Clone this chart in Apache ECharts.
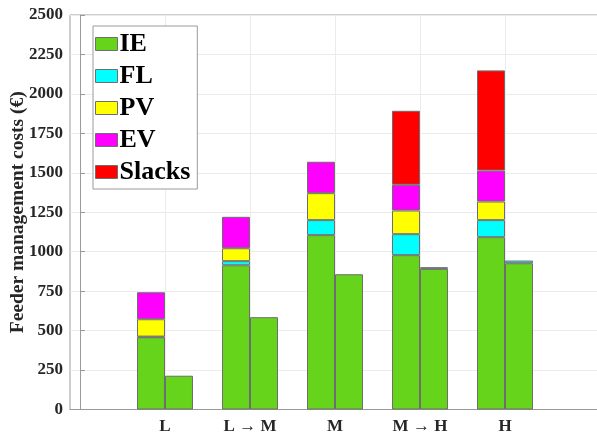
<!DOCTYPE html>
<html>
<head>
<meta charset="utf-8">
<script src="https://cdn.jsdelivr.net/npm/echarts@6/dist/echarts.min.js"></script>
<style>html,body{margin:0;padding:0;background:#fff}#c{width:597px;height:435px}</style>
</head>
<body>
<div id="c"></div>
<script>
const categories = ['L', 'L \u2192 M', 'M', 'M \u2192 H', 'H'];
const yTicks = [0, 250, 500, 750, 1000, 1250, 1500, 1750, 2000, 2250, 2500];
// first bar of each pair
const IE1 = [458, 914, 1105, 978, 1092];
const FL1 = [4, 26, 95, 133, 108];
const PV1 = [110, 82, 171, 150, 118];
const EV1 = [171, 199, 199, 163, 196];
const SL1 = [null, null, null, 469, 635];
// second bar of each pair
const IE2 = [214, 585, 857, 891, 927];
const FL2 = [null, null, null, 11, 17];

const colors = {IE: '#66d41a', FL: '#00ffff', PV: '#ffff00', EV: '#ff00ff', Slacks: '#ff0000'};
const font = '"Liberation Serif", "Times New Roman", serif';
const pos = categories.map((c, i) => i + 1);
// value first, position second, so the value dimension is the stacked one
const toData = arr => arr.map((v, i) => [v, pos[i]]);

function mk(name, arr, stack) {
  return {
    name, type: 'bar', stack, data: toData(arr),
    encode: {x: 1, y: 0},
    barWidth: 28, barGap: '0%',
    itemStyle: {color: colors[name], borderColor: '#6e6e6e', borderWidth: 1},
    emphasis: {disabled: true}, animation: false
  };
}

const chart = echarts.init(document.getElementById('c'), null, {renderer: 'canvas'});
chart.setOption({
  animation: false,
  grid: {left: 70, top: 15, right: -5, bottom: 25.5, containLabel: false, outerBoundsMode: 'none',
    show: true, borderColor: '#9a9a9a', borderWidth: 1, backgroundColor: 'transparent'},
  legend: {
    orient: 'vertical', left: 93, top: 26,
    data: ['IE', 'FL', 'PV', 'EV', 'Slacks'],
    icon: 'rect', itemWidth: 22, itemHeight: 13, itemGap: 6,
    padding: [5, 7, 4, 2],
    backgroundColor: '#fff', borderColor: '#9a9a9a', borderWidth: 1, borderRadius: 0,
    textStyle: {fontFamily: font, fontWeight: 'bold', fontSize: 26, color: '#000', padding: [0, 0, 0, -3]},
    itemStyle: {borderColor: '#6e6e6e', borderWidth: 1},
    selectedMode: false
  },
  xAxis: {
    type: 'value', min: -0.1176, max: 6.141,
    axisLine: {show: true, lineStyle: {color: '#9a9a9a'}},
    axisTick: {show: true, inside: true, length: 4, customValues: pos, lineStyle: {color: '#9a9a9a'}},
    splitLine: {show: true, lineStyle: {color: '#ebebeb'}},
    axisLabel: {customValues: pos, formatter: v => categories[Math.round(v) - 1] || '',
      fontFamily: font, fontWeight: 'bold', fontSize: 17, color: '#262626', margin: 9}
  },
  yAxis: {
    type: 'value', min: yTicks[0], max: yTicks[yTicks.length - 1], interval: 250,
    name: 'Feeder management costs (\u20ac)', nameLocation: 'middle', nameGap: 42, nameMoveOverlap: false,
    nameTextStyle: {fontFamily: font, fontWeight: 'bold', fontSize: 19.5, color: '#262626'},
    axisLine: {show: true, lineStyle: {color: '#9a9a9a'}},
    axisTick: {show: true, inside: true, length: 5, lineStyle: {color: '#9a9a9a'}},
    splitLine: {show: true, lineStyle: {color: '#ebebeb'}},
    axisLabel: {formatter: v => String(v), fontFamily: font, fontWeight: 'bold', fontSize: 17, color: '#262626', margin: 7}
  },
  series: [
    mk('IE', IE1, 'a'), mk('FL', FL1, 'a'), mk('PV', PV1, 'a'), mk('EV', EV1, 'a'), mk('Slacks', SL1, 'a'),
    mk('IE', IE2, 'b'), mk('FL', FL2, 'b')
  ]
});
</script>
</body>
</html>
